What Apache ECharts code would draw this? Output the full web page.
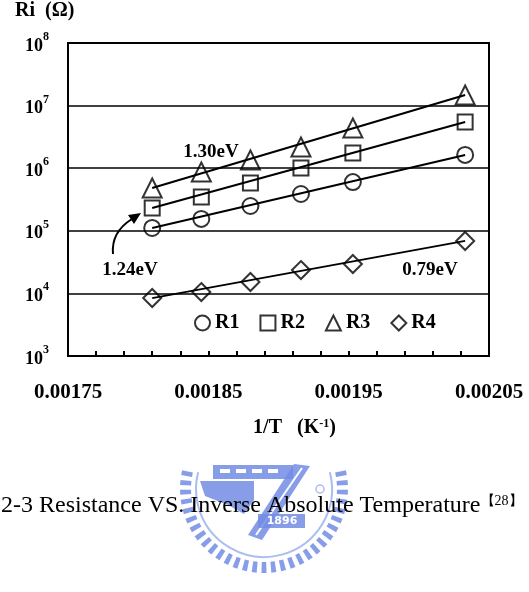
<!DOCTYPE html>
<html><head><meta charset="utf-8">
<script src="https://cdn.jsdelivr.net/npm/echarts@6/dist/echarts.min.js"></script>
<style>html,body{margin:0;padding:0;background:#fff}#c{width:529px;height:592px}</style>
</head><body><div id="c"></div>
<script>
// ---- data ----
const invT = [0.00181, 0.001845, 0.00188, 0.001916, 0.001953, 0.002033];
const R1 = [1.11e5, 1.55e5, 2.49e5, 3.87e5, 6.0e5, 1.63e6];
const R2 = [2.31e5, 3.47e5, 5.8e5, 1.01e6, 1.75e6, 5.47e6];
const R3 = [4.83e5, 8.7e5, 1.35e6, 2.18e6, 4.39e6, 1.48e7];
const R4 = [8.45e3, 1.05e4, 1.52e4, 2.36e4, 2.95e4, 6.87e4];
const fitX = [0.00181, 0.002033];
const fitR1 = [1.11e5, 1.62e6];
const fitR2 = [2.31e5, 5.47e6];
const fitR3 = [4.83e5, 1.48e7];
const fitR4 = [8.4e3, 6.9e4];
const seriesNames = ['R1', 'R2', 'R3', 'R4'];
const energyLabels = ['1.30eV', '1.24eV', '0.79eV'];
const yTitle = 'Ri  (\u03A9)';
const xTitle = '1/T   (K';
const caption = '2-3 Resistance VS. Inverse Absolute Temperature';
const captionRef = '\u301028\u3011';

const pair = (xs, ys) => xs.map((x, i) => [x, ys[i]]);
const FONT = 'Liberation Serif';

const markerStyle = { color: 'rgba(255,255,255,0)', borderColor: '#000', borderWidth: 2 };
const symbols = ['circle', 'rect', 'triangle', 'diamond'];
const sizes = [16, 15, 19, 18];
const pts = [R1, R2, R3, R4];
const fits = [fitR1, fitR2, fitR3, fitR4];

const series = [];
fits.forEach((f, i) => series.push({
  name: 'fit' + (i + 1), type: 'line', data: pair(fitX, f), symbol: 'none',
  lineStyle: { color: '#000', width: 2 }, z: 2, silent: true
}));
pts.forEach((p, i) => series.push({
  name: seriesNames[i], type: 'scatter', data: pair(invT, p),
  symbol: symbols[i], symbolSize: sizes[i], itemStyle: markerStyle, z: 3
}));

// ---- watermark logo (decorative) ----
const blue = 'rgba(115,140,228,0.85)';
const lightBlue = 'rgba(150,172,238,0.8)';
const logo = [];
const cx = 264, cy = 489;
for (let k = 0; k <= 32; k++) {
  const a = (-18 + k * (216 / 32)) * Math.PI / 180;
  const w = 0.03;
  const r0 = 73, r1 = 84;
  const p = [
    [cx + r0 * Math.cos(a - w), cy + r0 * Math.sin(a - w)],
    [cx + r1 * Math.cos(a - w), cy + r1 * Math.sin(a - w)],
    [cx + r1 * Math.cos(a + w), cy + r1 * Math.sin(a + w)],
    [cx + r0 * Math.cos(a + w), cy + r0 * Math.sin(a + w)]
  ];
  if (p.every(q => q[1] >= 463)) logo.push({ type: 'polygon', shape: { points: p }, style: { fill: blue }, z: 0 });
}
logo.push({ type: 'arc', shape: { cx, cy, r: 68, startAngle: -0.25, endAngle: Math.PI + 0.25 }, style: { stroke: lightBlue, lineWidth: 2, fill: null }, z: 0 });
logo.push({ type: 'rect', shape: { x: 213, y: 465, width: 80, height: 14 }, style: { fill: blue }, z: 0 });
[220, 236, 252, 268].forEach(x => logo.push({ type: 'rect', shape: { x, y: 469, width: 10, height: 4 }, style: { fill: '#fff' }, z: 0 }));
logo.push({ type: 'polygon', shape: { points: [[294, 464], [310, 466], [262, 540], [248, 535]] }, style: { fill: blue }, z: 0 });
logo.push({ type: 'line', shape: { x1: 302, y1: 468, x2: 256, y2: 535 }, style: { stroke: '#fff', lineWidth: 2 }, z: 0 });
logo.push({ type: 'polygon', shape: { points: [[200, 481], [254, 481], [254, 500], [244, 514], [228, 505], [205, 496]] }, style: { fill: blue }, z: 0 });
logo.push({ type: 'rect', shape: { x: 258, y: 514, width: 47, height: 14 }, style: { fill: blue }, z: 0 });
logo.push({ type: 'text', x: 282, y: 521, style: { text: '1896', fill: '#fff', font: 'bold 11px DejaVu Sans', align: 'center', verticalAlign: 'middle' }, z: 0 });
logo.push({ type: 'circle', shape: { cx: 320, cy: 489, r: 4 }, style: { fill: null, stroke: lightBlue, lineWidth: 1.5 }, z: 0 });

const chart = echarts.init(document.getElementById('c'), null, { renderer: 'canvas' });
chart.setOption({
  animation: false,
  backgroundColor: '#fff',
  grid: { left: 68, right: 40, top: 43, bottom: 236, show: true, borderColor: '#000', borderWidth: 2, backgroundColor: 'transparent' },
  legend: {
    data: seriesNames, left: 189, top: 308, itemWidth: 15, itemHeight: 15, itemGap: 20,
    textStyle: { fontFamily: FONT, fontWeight: 'bold', fontSize: 20, color: '#000' },
    itemStyle: markerStyle
  },
  xAxis: {
    type: 'value', min: 0.00175, max: 0.00205, interval: 0.0001,
    axisLine: { show: true, lineStyle: { color: '#000', width: 2 } },
    axisTick: { show: true, inside: true, length: 5, lineStyle: { color: '#000', width: 2 } },
    minorTick: { show: true, splitNumber: 5, length: 5, lineStyle: { color: '#000', width: 2 } },
    splitLine: { show: false },
    axisLabel: { margin: 26, color: '#000', fontFamily: FONT, fontWeight: 'bold', fontSize: 21, formatter: v => v.toFixed(5) },
    name: '{b|' + xTitle + '}{s|-1}{b|)}', nameLocation: 'middle', nameGap: 62,
    nameTextStyle: { padding: [0, 0, 0, 32], rich: {
      b: { fontFamily: FONT, fontWeight: 'bold', fontSize: 20, color: '#000' },
      s: { fontFamily: FONT, fontWeight: 'bold', fontSize: 12, color: '#000', verticalAlign: 'top' } } }
  },
  yAxis: {
    type: 'log', logBase: 10, min: 1e3, max: 1e8,
    axisLine: { show: true, lineStyle: { color: '#000', width: 2 } },
    axisTick: { show: false },
    splitLine: { show: true, lineStyle: { color: '#000', width: 1.5 } },
    axisLabel: {
      margin: 19, color: '#000',
      formatter: v => '{b|10}{s|' + Math.round(Math.log10(v)) + '}',
      rich: {
        b: { fontFamily: FONT, fontWeight: 'bold', fontSize: 18, color: '#000', padding: [6, 0, 0, 0] },
        s: { fontFamily: FONT, fontWeight: 'bold', fontSize: 12, color: '#000', verticalAlign: 'top' }
      }
    }
  },
  series,
  graphic: logo.concat([
    { type: 'text', x: 15, y: 11, style: { text: yTitle, font: 'bold 20px ' + FONT, fill: '#000', verticalAlign: 'middle' }, z: 10 },
    { type: 'text', x: 211, y: 152, style: { text: energyLabels[0], font: 'bold 19px ' + FONT, fill: '#000', align: 'center', verticalAlign: 'middle' }, z: 10 },
    { type: 'text', x: 130, y: 270, style: { text: energyLabels[1], font: 'bold 19px ' + FONT, fill: '#000', align: 'center', verticalAlign: 'middle' }, z: 10 },
    { type: 'text', x: 430, y: 270, style: { text: energyLabels[2], font: 'bold 19px ' + FONT, fill: '#000', align: 'center', verticalAlign: 'middle' }, z: 10 },
    { type: 'bezierCurve', shape: { x1: 113, y1: 254, cpx1: 111, cpy1: 232, x2: 132, y2: 219 }, style: { stroke: '#000', lineWidth: 2, fill: null }, z: 10 },
    { type: 'polygon', shape: { points: [[141, 213], [128, 215], [134, 224]] }, style: { fill: '#000' }, z: 10 },
    { type: 'text', x: 1, y: 506, style: {
        text: '{m|' + caption + '}{s|' + captionRef + '}',
        rich: { m: { fontFamily: FONT, fontSize: 24, fill: '#000' }, s: { fontFamily: FONT, fontSize: 14, fill: '#000', verticalAlign: 'top' } },
        verticalAlign: 'middle' }, z: 10 }
  ])
});
</script></body></html>
